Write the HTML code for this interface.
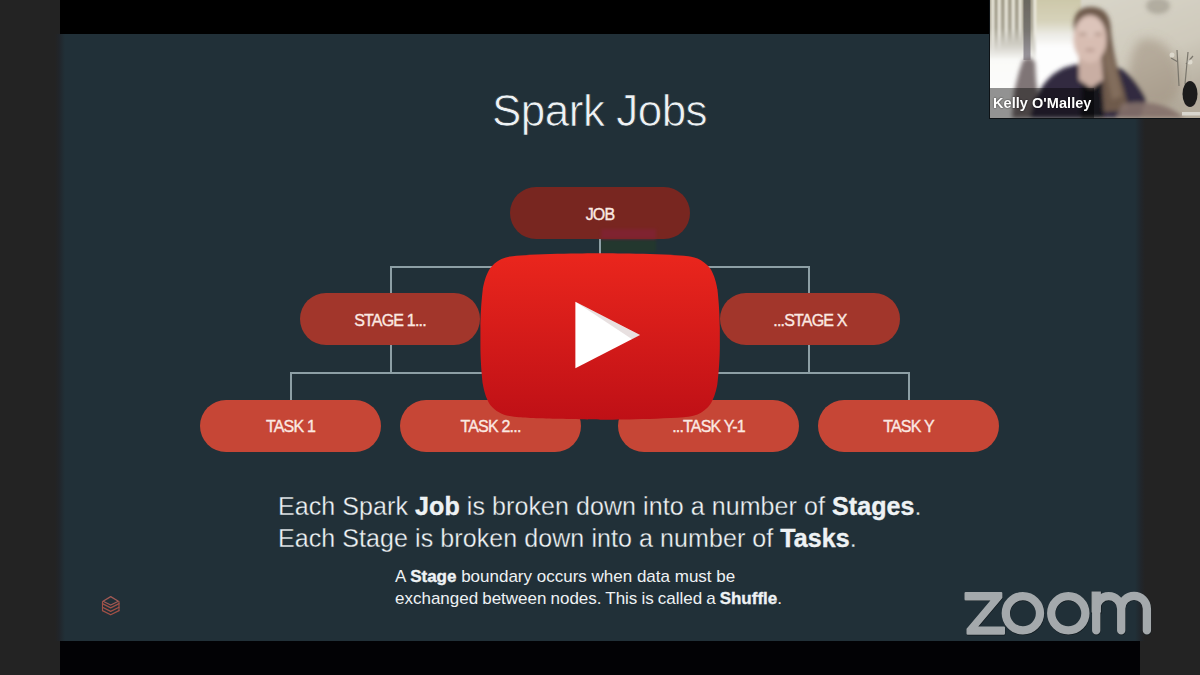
<!DOCTYPE html>
<html><head><meta charset="utf-8">
<style>
html,body{margin:0;padding:0;}
body{width:1200px;height:675px;overflow:hidden;position:relative;background:#232323;font-family:"Liberation Sans",sans-serif;}
.abs{position:absolute;}
#topbar{left:60px;top:0;width:1080px;height:34px;background:#000;}
#botbar{left:60px;top:641px;width:1080px;height:34px;background:#020205;}
#slide{left:60px;top:34px;width:1080px;height:607px;background:#213038;}
.t{position:absolute;white-space:nowrap;color:#eef2f4;}
#title{left:0;top:0;font-size:44px;letter-spacing:-0.5px;-webkit-text-stroke:0.7px #213038;}
.pill{position:absolute;width:180px;height:52px;border-radius:26px;color:#fbe9e2;font-size:16px;letter-spacing:-0.8px;-webkit-text-stroke:0.35px #fbe9e2;text-align:center;line-height:56px;}
.job{background:#782620;}
.stage{background:#a2362b;}
.task{background:#c64636;line-height:54px;}
.ln{position:absolute;background:#8d9fa5;}
#body1{font-size:25px;letter-spacing:0.08px;-webkit-text-stroke:0.3px #213038;}
#body2{font-size:17px;}
b{font-weight:bold;-webkit-text-stroke:0.35px #eef2f4;}
</style></head>
<body>
<div id="topbar" class="abs"></div>
<div id="slide" class="abs"></div>
<div id="botbar" class="abs"></div>
<div class="abs" style="left:55px;top:34px;width:10px;height:607px;background:linear-gradient(to right,#232323,#21252a 40%,#213038);"></div>
<div class="abs" style="left:1135px;top:118px;width:10px;height:523px;background:linear-gradient(to right,#213038,#21262b 60%,#232323);"></div>

<!-- title -->
<div class="t" id="title" style="left:492px;top:86px;">Spark Jobs</div>

<!-- jpeg chroma artifacts -->
<div class="abs" style="left:600px;top:240px;width:56px;height:12px;background:#23372e;filter:blur(1px);"></div>
<!-- connector lines -->
<div class="ln" style="left:599px;top:239px;width:2px;height:28px;"></div>
<div class="ln" style="left:390px;top:266px;width:420px;height:2px;"></div>
<div class="ln" style="left:390px;top:266px;width:2px;height:28px;"></div>
<div class="ln" style="left:808px;top:266px;width:2px;height:28px;"></div>
<div class="ln" style="left:390px;top:345px;width:2px;height:28px;"></div>
<div class="ln" style="left:808px;top:345px;width:2px;height:28px;"></div>
<div class="ln" style="left:290px;top:372px;width:620px;height:2px;"></div>
<div class="ln" style="left:290px;top:372px;width:2px;height:29px;"></div>
<div class="ln" style="left:489px;top:372px;width:2px;height:29px;"></div>
<div class="ln" style="left:708px;top:372px;width:2px;height:29px;"></div>
<div class="ln" style="left:908px;top:372px;width:2px;height:29px;"></div>

<!-- pills -->
<div class="pill job" style="left:510px;top:187px;">JOB</div>
<div class="pill stage" style="left:300px;top:293px;">STAGE 1...</div>
<div class="pill stage" style="left:720px;top:293px;">...STAGE X</div>
<div class="pill task" style="left:200px;top:400px;width:181px;">TASK 1</div>
<div class="pill task" style="left:400px;top:400px;width:181px;">TASK 2...</div>
<div class="pill task" style="left:618px;top:400px;width:181px;">...TASK Y-1</div>
<div class="pill task" style="left:818px;top:400px;width:181px;">TASK Y</div>

<div class="abs" style="left:601px;top:229px;width:55px;height:10px;background:#7f2330;filter:blur(1.5px);"></div>
<!-- body text -->
<div class="t" id="body1" style="left:278px;top:490px;line-height:32px;">Each Spark <b>Job</b> is broken down into a number of <b>Stages</b>.<br>Each Stage is broken down into a number of <b>Tasks</b>.</div>
<div class="t" id="body2" style="left:395px;top:566px;line-height:21.5px;">A <b>Stage</b> boundary occurs when data must be<br><span style="word-spacing:-0.7px">exchanged between nodes. This is called a <b>Shuffle</b>.</span></div>




<!-- zoom logo -->
<svg class="abs" style="left:955px;top:582px;" width="205" height="62" viewBox="955 582 205 62">
<defs>
<g id="zl">
<path d="M965.7,593.2 L1001.2,593.2 L1001.2,597.6 L975.9,627.6 L1003.8,627.6 L1003.8,633.6 L967.7,633.6 L967.7,629.2 L993,599.2 L965.7,599.2 Z" stroke-width="2.4" stroke-linejoin="round"/>
<circle cx="1022.9" cy="613.3" r="17.1" fill="none" stroke-width="8.3"/>
<circle cx="1068.3" cy="613.3" r="17.1" fill="none" stroke-width="8.3"/>
<path d="M1096.2,630.4 L1096.2,608.7 A12.5,12.5 0 0 1 1121.2,608.7 L1121.2,630.4 M1121.2,608.7 A12.85,12.85 0 0 1 1146.9,608.7 L1146.9,630.4" fill="none" stroke-width="8.3" stroke-linecap="round"/>
<rect x="1092.05" y="592" width="8.3" height="20"/>
</g>
</defs>
<use href="#zl" fill="#0f161a" stroke="#0f161a" style="stroke-width:2" opacity="0.8" transform="translate(0.3,0.6)"/>
<use href="#zl" fill="#a4a9ac" stroke="#a4a9ac"/>
</svg>
<!-- databricks logo -->
<svg class="abs" style="left:98px;top:592px;" width="24" height="26" viewBox="98 592 24 26">
<g fill="none" stroke="#b8574a" stroke-width="1.25" opacity="0.85" stroke-linejoin="round" stroke-linecap="round">
<path d="M110.7,596.6 L118.4,601.2 L110.7,605 L103,601.2 Z" stroke="#b9615a"/>
<path d="M102.5,603.6 L110.7,607.9 L119,603.6"/>
<path d="M102.5,607.2 L110.7,611.4 L119,607.2"/>
<path d="M102.5,610.6 L110.7,614.8 L119,610.6"/>
<path d="M102.5,601.5 L102.5,610.6 M119,601.5 L119,610.6" stroke-width="1.1"/>
</g>
</svg>
<!-- webcam -->
<div class="abs" style="left:989px;top:0;width:211px;height:119px;background:#0d1216;"></div>
<svg class="abs" style="left:990px;top:0;" width="210" height="118" viewBox="0 0 210 118">
<defs>
<filter id="bl05" x="-20%" y="-20%" width="140%" height="140%"><feGaussianBlur stdDeviation="0.7"/></filter>
<filter id="bl1" x="-20%" y="-20%" width="140%" height="140%"><feGaussianBlur stdDeviation="1.3"/></filter>
<filter id="bl2" x="-30%" y="-30%" width="160%" height="160%"><feGaussianBlur stdDeviation="2.2"/></filter>
<filter id="bl3" x="-50%" y="-50%" width="200%" height="200%"><feGaussianBlur stdDeviation="5"/></filter>
<linearGradient id="wall" x1="0" y1="0" x2="0.4" y2="1">
<stop offset="0" stop-color="#d9d6ca"/><stop offset="0.6" stop-color="#cfcabc"/><stop offset="1" stop-color="#b3ab9c"/></linearGradient>
<linearGradient id="win" x1="0" y1="0" x2="0" y2="1">
<stop offset="0" stop-color="#cbc6a6"/><stop offset="0.2" stop-color="#d6d2ba"/><stop offset="0.3" stop-color="#ebeae4"/><stop offset="0.4" stop-color="#fdfdfd"/><stop offset="1" stop-color="#ffffff"/></linearGradient>
<linearGradient id="blind" x1="0" y1="0" x2="0" y2="1">
<stop offset="0" stop-color="#a09b88"/><stop offset="0.25" stop-color="#aaa696"/><stop offset="0.4" stop-color="#d6d4cc"/><stop offset="0.5" stop-color="#fafaf8"/><stop offset="1" stop-color="#ffffff"/></linearGradient>
<linearGradient id="strip" x1="0" y1="0" x2="0" y2="1">
<stop offset="0" stop-color="#f3f0e2"/><stop offset="0.7" stop-color="#f3f1e8" stop-opacity="0.9"/><stop offset="1" stop-color="#ffffff" stop-opacity="0"/></linearGradient>
<linearGradient id="pole" x1="0" y1="0" x2="0" y2="1">
<stop offset="0" stop-color="#68655d"/><stop offset="0.55" stop-color="#777470"/><stop offset="1" stop-color="#9d99a2"/></linearGradient>
</defs>
<rect width="210" height="118" fill="url(#wall)"/>
<g filter="url(#bl1)">
<rect x="-5" y="-5" width="52" height="130" fill="url(#blind)"/>
<rect x="1.5" y="-5" width="2.5" height="60" fill="url(#strip)"/>
<rect x="8" y="-5" width="2.5" height="55" fill="url(#strip)"/>
<rect x="15" y="-5" width="2.5" height="50" fill="url(#strip)"/>
<rect x="22" y="-5" width="2.5" height="48" fill="url(#strip)"/>
<rect x="29" y="-5" width="2.5" height="48" fill="url(#strip)"/>
<rect x="43.5" y="-5" width="3" height="55" fill="url(#strip)"/>
<rect x="46" y="-5" width="46" height="130" fill="url(#win)"/>
<rect x="91" y="-5" width="125" height="130" fill="url(#wall)"/>
</g>
<g filter="url(#bl05)">
<rect x="33.5" y="-5" width="7" height="65" fill="url(#pole)"/>
</g>
<g filter="url(#bl2)">
<ellipse cx="168" cy="6" rx="12" ry="8" fill="#8f8a7e" opacity="0.5"/>
<!-- left raised hand -->
<path d="M22,118 L24,92 L29,72 L33,60 L40,57 L45,62 L46,80 L48,95 L45,118 Z" fill="#7f7476"/>
<!-- right hand blur -->
<path d="M150,40 C168,34 186,50 190,74 C192,92 186,104 170,108 L140,104 C136,84 138,52 150,40 Z" fill="#9a8a78" opacity="0.5" filter="url(#bl3)"/>
<!-- shirt -->
<path d="M40,118 C44,96 56,72 80,66 L92,63 L112,63 L132,69 C142,76 152,90 156,100 L150,118 Z" fill="#302c40"/>
<path d="M93,78 L111,78 L114,118 L90,118 Z" fill="#17141b"/>
<!-- hair -->
<path d="M84,30 C82,12 91,7 101,7 C115,7 121,16 121,32 C123,52 128,72 134,90 L139,110 L114,112 L111,62 L86,50 Z" fill="#6e5a4b"/>
<path d="M116,40 C122,56 128,74 132,96 L122,100 L114,62 Z" fill="#8a7564" opacity="0.7"/>
<!-- neck -->
<path d="M89,56 L111,56 L113,80 L101,88 L89,80 Z" fill="#c9aea3"/>
<!-- face -->
<ellipse cx="100" cy="39" rx="16.5" ry="24" fill="#d8bdb2"/>
<ellipse cx="100" cy="28" rx="12" ry="10" fill="#e0c8bf" opacity="0.6"/>
<ellipse cx="93" cy="34" rx="4" ry="1.6" fill="#8f7468" opacity="0.55"/>
<ellipse cx="108" cy="34" rx="4" ry="1.6" fill="#8f7468" opacity="0.55"/>
<ellipse cx="100" cy="50" rx="5" ry="1.6" fill="#8f6c64" opacity="0.45"/>
<!-- forearm -->
<path d="M132,104 C150,100 178,102 194,118 L126,118 Z" fill="#84706a" opacity="0.9"/>
</g>
<g filter="url(#bl05)">
<path d="M187,50 L189,86 M198,52 L195,84 M188,62 L181,58 M196,64 L203,56" stroke="#7a766c" stroke-width="1.2" fill="none"/>
<circle cx="182" cy="55" r="2.5" fill="#e8e6dc" opacity="0.7"/>
<circle cx="200" cy="62" r="2.5" fill="#e8e6dc" opacity="0.7"/>
<ellipse cx="200" cy="94" rx="7.5" ry="13" fill="#1e1c1e"/>
<rect x="192" y="112" width="25" height="3.5" fill="#d8d6ce"/>
</g>
</svg>
<div class="abs" style="left:990px;top:88px;width:104px;height:30px;background:rgba(0,0,0,0.42);"></div>
<div class="abs t" style="left:993px;top:95px;font-size:14.5px;letter-spacing:0.05px;font-weight:bold;color:#fff;text-shadow:0 0 2px rgba(0,0,0,0.8);">Kelly O'Malley</div>
<!-- youtube play button -->
<svg class="abs" style="left:480px;top:253px;" width="240" height="167" viewBox="0 0 1024 721" preserveAspectRatio="none">
<defs><linearGradient id="ytg" x1="0" y1="0" x2="0" y2="1">
<stop offset="0" stop-color="#ea261d"/><stop offset="1" stop-color="#bf1016"/></linearGradient></defs>
<path fill="url(#ytg)" d="M1013,156.3c0,0-10-70.4-40.6-101.4C933.6,14.2,890,14,870.1,11.6C727.1,1.3,512.7,1.3,512.7,1.3h-0.4c0,0-214.4,0-357.4,10.3C135,14,91.4,14.2,52.6,54.9C22,85.9,12,156.3,12,156.3S1.8,238.9,1.8,321.6v77.5C1.8,481.8,12,564.4,12,564.4s10,70.4,40.6,101.4c38.9,40.7,89.9,39.4,112.6,43.7c81.7,7.8,347.3,10.3,347.3,10.3s214.6-0.3,357.6-10.7c20-2.4,63.5-2.6,102.3-43.3c30.6-31,40.6-101.4,40.6-101.4s10.2-82.7,10.2-165.3v-77.5C1023.2,238.9,1013,156.3,1013,156.3z"/>
<g transform="translate(0,5)"><path fill="#fff" d="M407,493V206l276,143L407,493z"/>
<path fill="#420000" opacity="0.12" d="M407,206l242,161.6l34-17.6L407,206z"/></g>
</svg>
</body></html>
